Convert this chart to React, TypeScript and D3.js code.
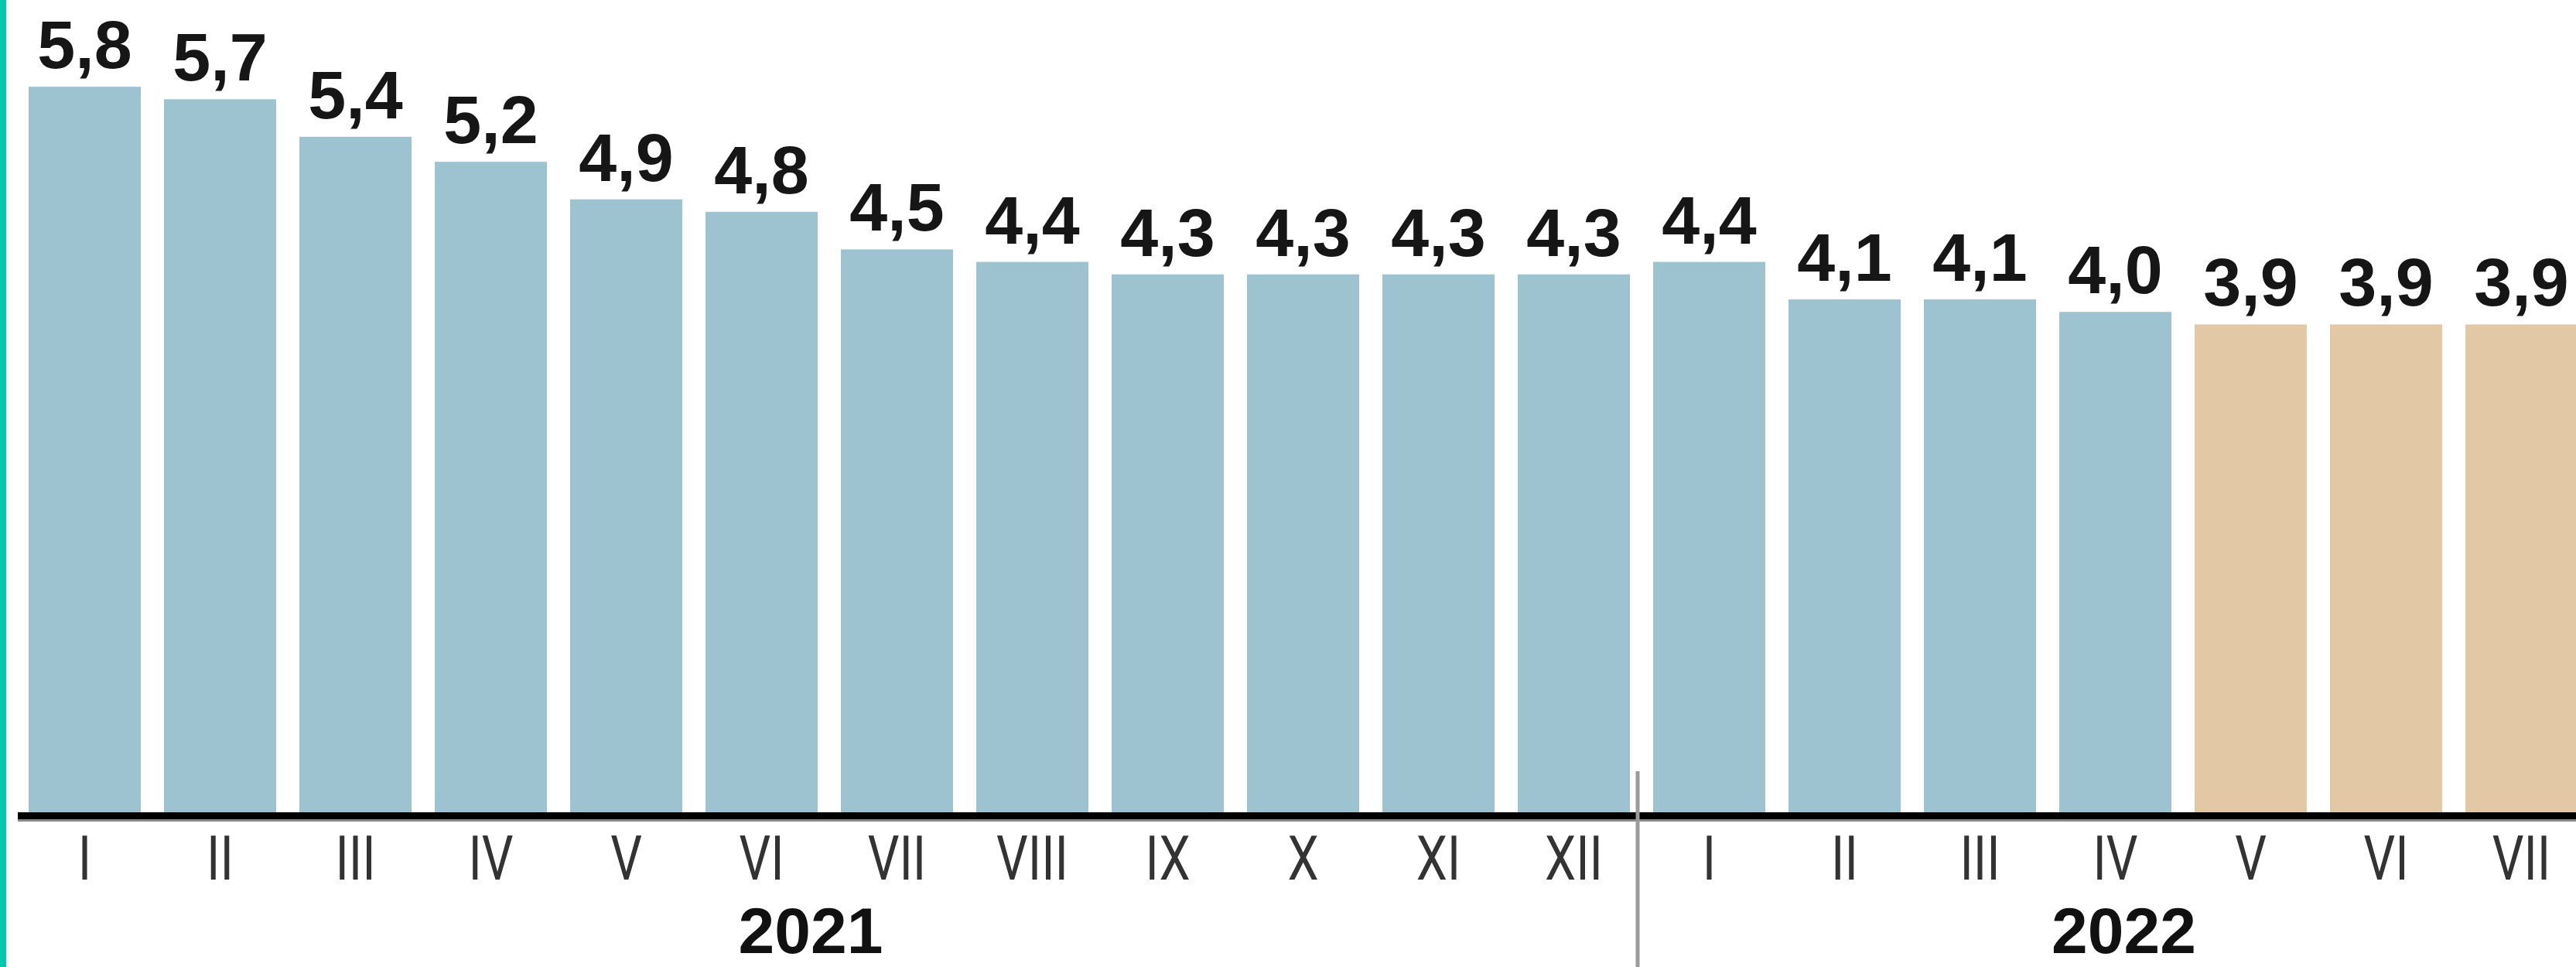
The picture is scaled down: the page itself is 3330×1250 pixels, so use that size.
import React from "react";
import * as d3 from "d3";

const months = ["I","II","III","IV","V","VI","VII","VIII","IX","X","XI","XII","I","II","III","IV","V","VI","VII"];
const values = [5.8,5.7,5.4,5.2,4.9,4.8,4.5,4.4,4.3,4.3,4.3,4.3,4.4,4.1,4.1,4.0,3.9,3.9,3.9];
const forecast = [false,false,false,false,false,false,false,false,false,false,false,false,false,false,false,false,true,true,true];
const years = ["2021","2022"];
const yearStart = [0, 12];
const yearEnd = [11, 18];

const W = 3330;
const H = 1250;
const BLUE = "#9dc3d1";
const SAND = "#e3c8a6";

export default function App() {
  const idx = values.map((_, i) => i);
  const x = d3.scaleBand<number>().domain(idx).range([22, 3347]).paddingInner(30 / 175).paddingOuter(15 / 175);
  const y = d3.scaleLinear().domain([0, 6]).range([1050, 1050 - 6 * 161.7]);
  const bw = x.bandwidth();
  const fmt = (v: number) => v.toFixed(1).replace(".", ",");
  const yearOffsets = [-24, 11];

  return (
    <>
      <style>{`body{margin:0;background:#fff}`}</style>
      <svg width={W} height={H} viewBox={`0 0 ${W} ${H}`} style={{ display: "block" }}>
        <rect x={0} y={0} width={W} height={H} fill="#ffffff" />
        {values.map((v, i) => (
          <rect key={"b" + i} x={x(i)} y={y(v)} width={bw} height={y(0) - y(v)} fill={forecast[i] ? SAND : BLUE} />
        ))}
        {values.map((v, i) => (
          <text key={"v" + i} x={(x(i) as number) + bw / 2} y={y(v) - 24} textAnchor="middle"
            fontFamily="'Liberation Sans', Arial, sans-serif" fontWeight={700} fontSize={88} fill="#161616">
            {fmt(v)}
          </text>
        ))}
        <line x1={23} x2={W} y1={1054.5} y2={1054.5} stroke="#000" strokeWidth={9} />
        <line x1={23} x2={W} y1={1060.5} y2={1060.5} stroke="#8a8a8a" strokeWidth={3} />
        <line x1={(x(12) as number) - 20} x2={(x(12) as number) - 20} y1={997} y2={H} stroke="#9a9a9a" strokeWidth={5} />
        {months.map((m, i) => (
          <text key={"m" + i} transform={`translate(${(x(i) as number) + bw / 2},1137) scale(0.8,1)`} textAnchor="middle"
            fontFamily="Roboto, 'Liberation Sans', sans-serif" fontWeight={400} fontSize={80} fill="#333">
            {m}
          </text>
        ))}
        {years.map((yr, k) => {
          const cx = ((x(yearStart[k]) as number) + (x(yearEnd[k]) as number) + bw) / 2 + yearOffsets[k];
          return (
            <text key={"y" + k} x={cx} y={1232} textAnchor="middle"
              fontFamily="'Liberation Sans', Arial, sans-serif" fontWeight={700} fontSize={84} fill="#111">
              {yr}
            </text>
          );
        })}
        <rect x={0} y={0} width={8} height={H} fill="#00c8b0" />
      </svg>
    </>
  );
}
